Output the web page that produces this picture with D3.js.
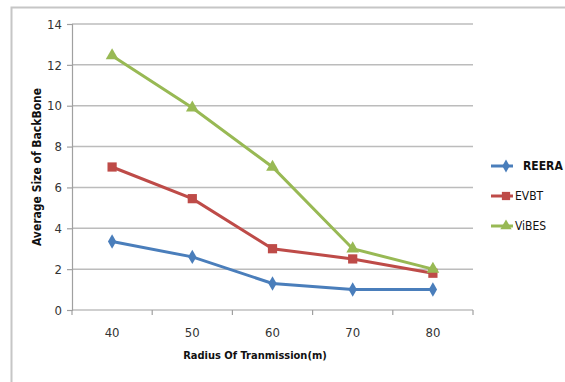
<!DOCTYPE html>
<html>
<head>
<meta charset="utf-8">
<script src="https://cdn.jsdelivr.net/npm/d3@7"></script>
<style>
  body { margin: 0; background: #fff; }
  svg { display: block; }
</style>
</head>
<body>
<div id="chart"></div>
<script>
// chart values
const radius = [40, 50, 60, 70, 80];
const reera = [3.35, 2.6, 1.3, 1.0, 1.0];
const evbt = [7.0, 5.45, 3.0, 2.5, 1.8];
const vibes = [12.45, 9.9, 7.0, 3.0, 2.0];
const yTicks = [0, 2, 4, 6, 8, 10, 12, 14];

const series = [
    { name: "REERA", values: reera, color: "#4a7ebb", shape: "diamond" },
    { name: "EVBT", values: evbt, color: "#be4b48", shape: "square" },
    { name: "ViBES", values: vibes, color: "#98b954", shape: "triangle" }
];

const width = 565;
const height = 382;
const font = "'DejaVu Sans Condensed', sans-serif";

const svg = d3.select("#chart").append("svg")
    .attr("width", width)
    .attr("height", height);

// outer chart border (only top and left visible in the frame)
svg.append("rect")
    .attr("x", 11.5).attr("y", 7.5)
    .attr("width", 600).attr("height", 400)
    .attr("fill", "none")
    .attr("stroke", "#c6c6c6")
    .attr("stroke-width", 2);

const plot = { left: 72, right: 473, top: 24, bottom: 310 };

const x = d3.scaleBand()
    .domain(radius)
    .range([plot.left, plot.right]);

const y = d3.scaleLinear()
    .domain([0, 14])
    .range([plot.bottom, plot.top]);

// gridlines
svg.append("g")
    .selectAll("line")
    .data(yTicks.filter(d => d > 0))
    .join("line")
    .attr("x1", plot.left).attr("x2", plot.right)
    .attr("y1", d => y(d)).attr("y2", d => y(d))
    .attr("stroke", "#bcbcbc")
    .attr("stroke-width", 1.5);

// y axis
const yAxis = svg.append("g")
    .attr("transform", `translate(${plot.left},0)`)
    .call(d3.axisLeft(y).tickValues(yTicks).tickSize(5).tickPadding(5));
yAxis.selectAll(".domain, .tick line").attr("stroke", "#a0a0a0").attr("stroke-width", 1.2);
yAxis.selectAll("text")
    .attr("fill", "#333")
    .style("font-family", font)
    .style("font-size", "13px");

// x axis: ticks on band edges
const xAxis = svg.append("g")
    .attr("transform", `translate(0,${plot.bottom})`);
xAxis.append("line")
    .attr("x1", plot.left).attr("x2", plot.right)
    .attr("stroke", "#a0a0a0").attr("stroke-width", 1.2);
const edges = radius.map(d => x(d)).concat([plot.right]);
xAxis.selectAll(".edge")
    .data(edges)
    .join("line")
    .attr("class", "edge")
    .attr("x1", d => d).attr("x2", d => d)
    .attr("y1", 0).attr("y2", 5)
    .attr("stroke", "#a0a0a0").attr("stroke-width", 1.2);
xAxis.selectAll("text")
    .data(radius)
    .join("text")
    .attr("x", d => x(d) + x.bandwidth() / 2)
    .attr("y", 27)
    .attr("text-anchor", "middle")
    .attr("fill", "#333")
    .style("font-family", font)
    .style("font-size", "13px")
    .text(d => d);

// axis titles
svg.append("text")
    .attr("x", 255)
    .attr("y", 359)
    .attr("text-anchor", "middle")
    .attr("fill", "#111")
    .style("font-family", font)
    .style("font-size", "11px")
    .style("font-weight", "bold")
    .text("Radius Of Tranmission(m)");

svg.append("text")
    .attr("transform", "translate(41,167) rotate(-90)")
    .attr("text-anchor", "middle")
    .attr("fill", "#111")
    .style("font-family", font)
    .style("font-size", "12px")
    .style("font-weight", "bold")
    .text("Average Size of BackBone");

const symbolType = {
    diamond: d3.symbolDiamond,
    square: d3.symbolSquare,
    triangle: d3.symbolTriangle
};
const symbolSize = { diamond: 60, square: 85, triangle: 70 };

const line = d3.line()
    .x((d, i) => x(radius[i]) + x.bandwidth() / 2)
    .y(d => y(d));

series.forEach(s => {
    svg.append("path")
        .datum(s.values)
        .attr("d", line)
        .attr("fill", "none")
        .attr("stroke", s.color)
        .attr("stroke-width", 3);

    svg.append("g")
        .selectAll("path")
        .data(s.values)
        .join("path")
        .attr("transform", (d, i) => `translate(${x(radius[i]) + x.bandwidth() / 2},${y(d)})`)
        .attr("d", d3.symbol().type(symbolType[s.shape]).size(symbolSize[s.shape]))
        .attr("fill", s.color);
});

// legend
const legend = svg.append("g")
    .attr("transform", "translate(491,166)");

const items = legend.selectAll("g")
    .data(series)
    .join("g")
    .attr("transform", (d, i) => `translate(0,${i * 30})`);

items.append("line")
    .attr("x1", 0).attr("x2", 22)
    .attr("stroke", d => d.color)
    .attr("stroke-width", 3);

items.append("path")
    .attr("transform", "translate(15,0)")
    .attr("d", d => d3.symbol().type(symbolType[d.shape]).size(symbolSize[d.shape] * 0.8)())
    .attr("fill", d => d.color);

items.append("text")
    .attr("x", (d, i) => i === 0 ? 32 : 24)
    .attr("y", 4)
    .attr("fill", "#111")
    .style("font-family", font)
    .style("font-size", "12px")
    .style("font-weight", (d, i) => i === 0 ? "bold" : "normal")
    .text(d => d.name);
</script>
</body>
</html>
